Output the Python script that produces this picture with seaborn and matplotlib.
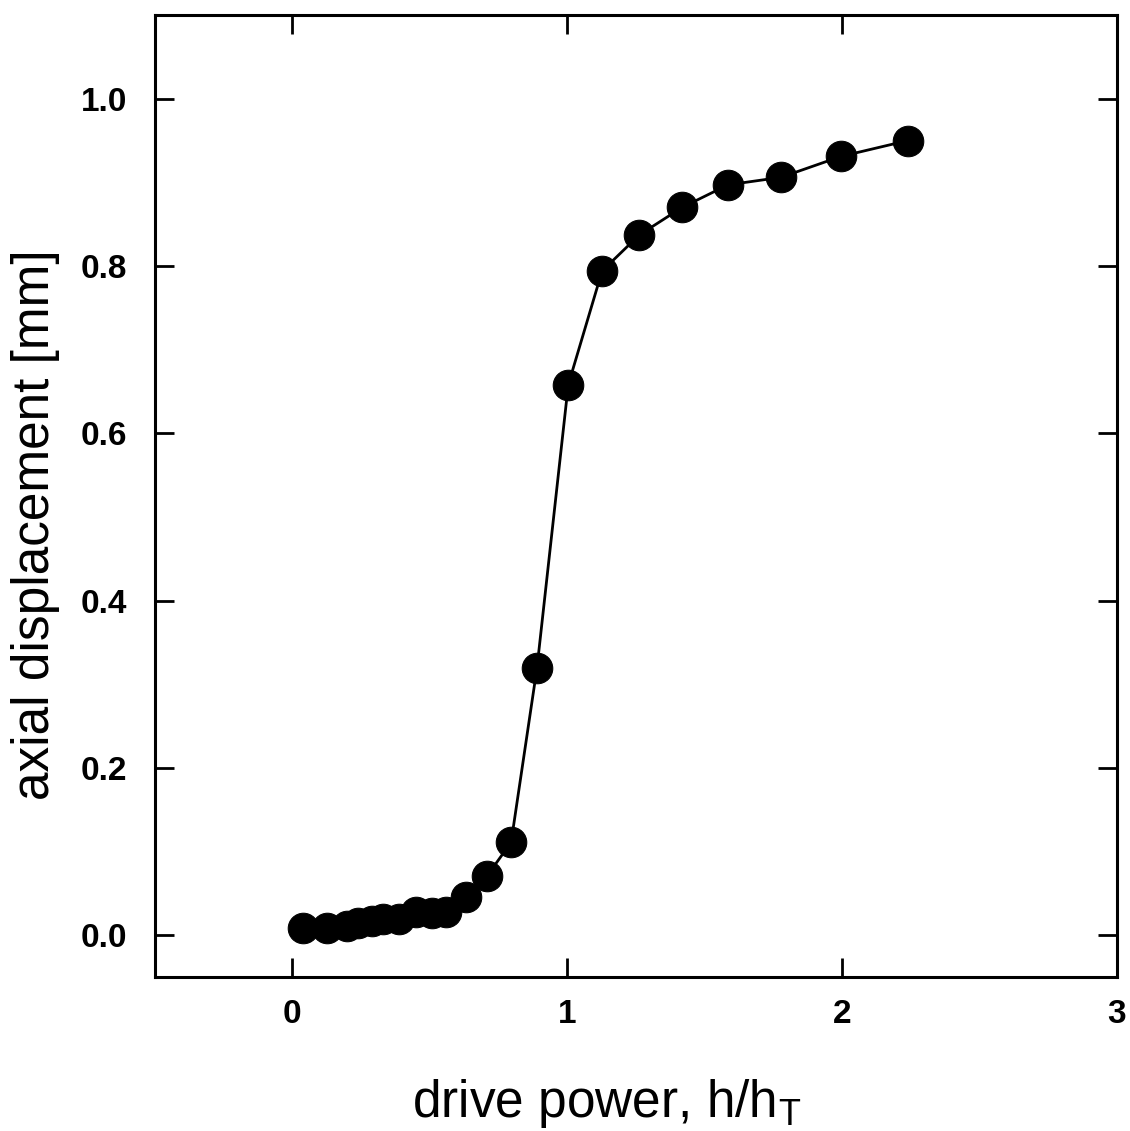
import matplotlib
matplotlib.use("Agg")
import matplotlib.pyplot as plt
import seaborn as sns
import pandas as pd

drive_power = [0.04, 0.127, 0.20, 0.24, 0.29, 0.33, 0.39, 0.45, 0.51, 0.56,
               0.633, 0.709, 0.796, 0.89, 1.004, 1.127, 1.262, 1.418, 1.585,
               1.778, 1.996, 2.24]
axial_disp = [0.008, 0.009, 0.011, 0.014, 0.017, 0.019, 0.019, 0.028, 0.027, 0.028,
              0.045, 0.071, 0.111, 0.319, 0.658, 0.794, 0.837, 0.870, 0.897,
              0.906, 0.931, 0.950]
x_ticks = [0, 1, 2, 3]
y_ticks = [0.0, 0.2, 0.4, 0.6, 0.8, 1.0]
y_tick_labels = ["0.0", "0.2", "0.4", "0.6", "0.8", "1.0"]

df = pd.DataFrame({"x": drive_power, "y": axial_disp})

sns.set_theme(style="ticks")
plt.rcParams['font.family'] = ['Liberation Sans', 'DejaVu Sans']

fig = plt.figure(figsize=(11.3, 11.31), dpi=100)
ax = fig.add_axes([0.137, 0.1362, 0.8515, 0.8505])

sns.lineplot(data=df, x="x", y="y", ax=ax, color="black", linewidth=2.0,
             marker="o", markersize=22, markeredgecolor="black",
             markerfacecolor="black", sort=False)

ax.set_xlim(-0.5, 3)
ax.set_ylim(-0.05, 1.1)
ax.set_xticks(x_ticks)
ax.set_xticklabels([str(t) for t in x_ticks])
ax.set_yticks(y_ticks)
ax.set_yticklabels(y_tick_labels)

ax.tick_params(axis="both", which="both", direction="in", length=14, width=2,
               top=True, right=True, labelsize=24, colors="black",
               labelcolor="black", pad=20)
for lab in ax.get_xticklabels() + ax.get_yticklabels():
    lab.set_fontweight("bold")
ax.tick_params(axis="x", pad=16)
for s in ax.spines.values():
    s.set_linewidth(2.2)
    s.set_color("black")

ax.set_xlabel(r"drive power, h/h$_\mathregular{T}$", fontsize=37, color="black")
ax.set_ylabel("axial displacement [mm]", fontsize=37, color="black")
ax.xaxis.set_label_coords(0.469, -0.104)
ax.yaxis.set_label_coords(-0.099, 0.47)

fig.savefig("out.png", dpi=100, facecolor="white")
